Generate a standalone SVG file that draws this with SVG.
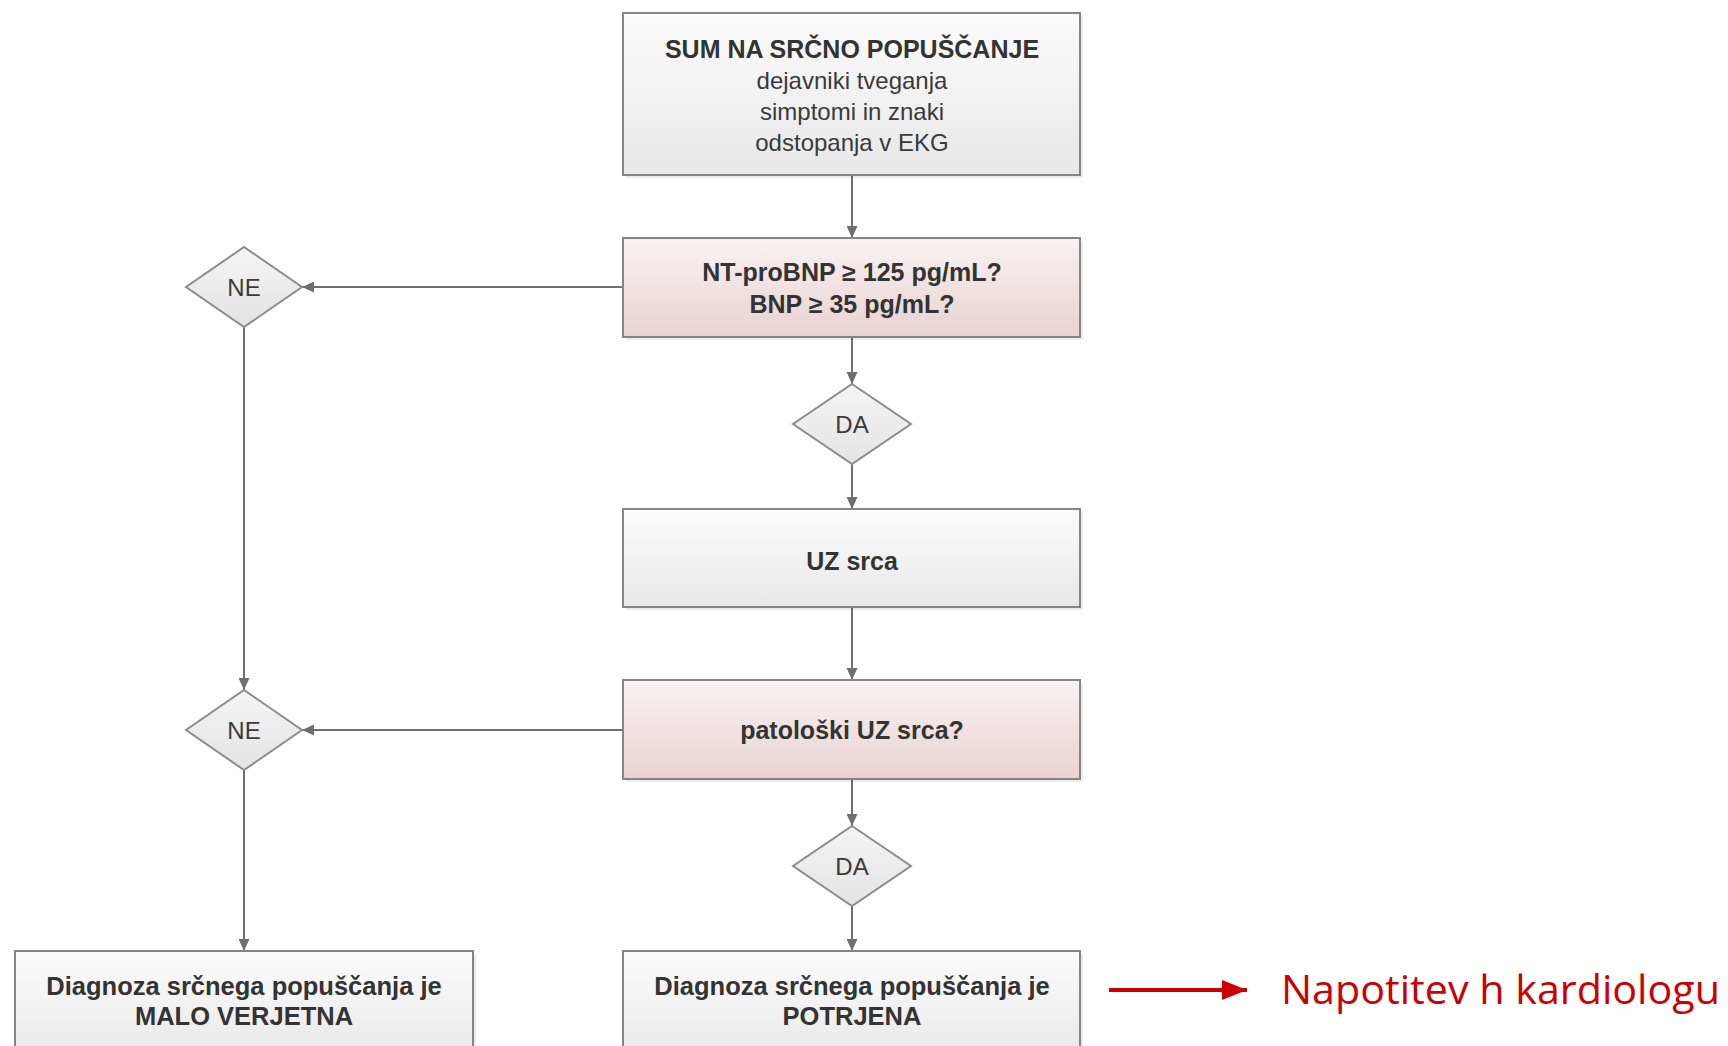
<svg xmlns="http://www.w3.org/2000/svg" width="1728" height="1046" viewBox="0 0 1728 1046">
<defs>
<linearGradient id="gGrey" x1="0" y1="0" x2="0" y2="1">
<stop offset="0" stop-color="#fbfbfb"/><stop offset="1" stop-color="#e8e8e8"/>
</linearGradient>
<linearGradient id="gPink" x1="0" y1="0" x2="0" y2="1">
<stop offset="0" stop-color="#f8f2f2"/><stop offset="1" stop-color="#e9d2d2"/>
</linearGradient>
<linearGradient id="gDia" x1="0" y1="0" x2="0" y2="1">
<stop offset="0" stop-color="#f4f4f4"/><stop offset="1" stop-color="#e4e4e4"/>
</linearGradient>
<marker id="arr" markerUnits="userSpaceOnUse" markerWidth="13" markerHeight="11" refX="12" refY="5.5" orient="auto">
<path d="M0,0 L12,5.5 L0,11 z" fill="#6e6e6e"/>
</marker>
<marker id="arrRed" markerUnits="userSpaceOnUse" markerWidth="26" markerHeight="20" refX="25" refY="10" orient="auto">
<path d="M0,0 L25,10 L0,20 z" fill="#cc0000"/>
</marker>
</defs>
<style>
.box{stroke:#858585;stroke-width:2}
.shadow{fill:#000;opacity:0.08}
.grey{fill:url(#gGrey)}
.pink{fill:url(#gPink)}
.dia{fill:url(#gDia);stroke:#8c8c8c;stroke-width:2}
.b{font-family:"Liberation Sans",Arial,sans-serif;font-weight:bold;font-size:25px;fill:#333;text-anchor:middle}
.b2{font-size:25.5px}
.r{font-family:"Liberation Sans",Arial,sans-serif;font-size:24px;fill:#3a3a3a;text-anchor:middle}
.c{fill:none;stroke:#707070;stroke-width:2}
</style>
<rect width="1728" height="1046" fill="#ffffff"/>

<g id="connectors">
<line class="c" x1="852" y1="176" x2="852" y2="238" marker-end="url(#arr)"/>
<line class="c" x1="852" y1="338" x2="852" y2="384" marker-end="url(#arr)"/>
<line class="c" x1="852" y1="464" x2="852" y2="509" marker-end="url(#arr)"/>
<line class="c" x1="852" y1="608" x2="852" y2="680" marker-end="url(#arr)"/>
<line class="c" x1="852" y1="780" x2="852" y2="826" marker-end="url(#arr)"/>
<line class="c" x1="852" y1="906" x2="852" y2="951" marker-end="url(#arr)"/>
<line class="c" x1="623" y1="287" x2="302" y2="287" marker-end="url(#arr)"/>
<line class="c" x1="623" y1="730" x2="302" y2="730" marker-end="url(#arr)"/>
<line class="c" x1="244" y1="327" x2="244" y2="690" marker-end="url(#arr)"/>
<line class="c" x1="244" y1="770" x2="244" y2="951" marker-end="url(#arr)"/>
<line x1="1109" y1="990" x2="1247" y2="990" stroke="#cc0000" stroke-width="4" marker-end="url(#arrRed)"/>
</g>

<g id="n_start">
<rect class="shadow" x="626" y="16" width="457" height="162"/>
<rect class="box grey" x="623" y="13" width="457" height="162"/>
<text class="b" x="852" y="58">SUM NA SRČNO POPUŠČANJE</text>
<text class="r" x="852" y="89">dejavniki tveganja</text>
<text class="r" x="852" y="120">simptomi in znaki</text>
<text class="r" x="852" y="151">odstopanja v EKG</text>
</g>

<g id="n_bnp">
<rect class="shadow" x="626" y="241" width="457" height="99"/>
<rect class="box pink" x="623" y="238" width="457" height="99"/>
<text class="b" x="852" y="281">NT-proBNP ≥ 125 pg/mL?</text>
<text class="b" x="852" y="313">BNP ≥ 35 pg/mL?</text>
</g>

<g id="n_da1">
<polygon class="dia" points="852,384 911,424 852,464 793,424"/>
<text class="r" x="852" y="433">DA</text>
</g>

<g id="n_ne1">
<polygon class="dia" points="244,247 302,287 244,327 186,287"/>
<text class="r" x="244" y="296">NE</text>
</g>

<g id="n_uz">
<rect class="shadow" x="626" y="512" width="457" height="98"/>
<rect class="box grey" x="623" y="509" width="457" height="98"/>
<text class="b" x="852" y="570">UZ srca</text>
</g>

<g id="n_pat">
<rect class="shadow" x="626" y="683" width="457" height="99"/>
<rect class="box pink" x="623" y="680" width="457" height="99"/>
<text class="b" x="852" y="739">patološki UZ srca?</text>
</g>

<g id="n_ne2">
<polygon class="dia" points="244,690 302,730 244,770 186,730"/>
<text class="r" x="244" y="739">NE</text>
</g>

<g id="n_da2">
<polygon class="dia" points="852,826 911,866 852,906 793,866"/>
<text class="r" x="852" y="875">DA</text>
</g>

<g id="n_unlikely">
<rect class="shadow" x="18" y="954" width="458" height="110"/>
<rect class="box grey" x="15" y="951" width="458" height="110"/>
<text class="b b2" x="244" y="995">Diagnoza srčnega popuščanja je</text>
<text class="b b2" x="244" y="1025">MALO VERJETNA</text>
</g>

<g id="n_confirmed">
<rect class="shadow" x="626" y="954" width="457" height="110"/>
<rect class="box grey" x="623" y="951" width="457" height="110"/>
<text class="b b2" x="852" y="995">Diagnoza srčnega popuščanja je</text>
<text class="b b2" x="852" y="1025">POTRJENA</text>
</g>

<g id="n_referral">
<text x="1281" y="1004" font-family="'Open Sans','Liberation Sans',sans-serif" font-size="40" fill="#cc0000" textLength="439" lengthAdjust="spacingAndGlyphs">Napotitev h kardiologu</text>
</g>
</svg>
